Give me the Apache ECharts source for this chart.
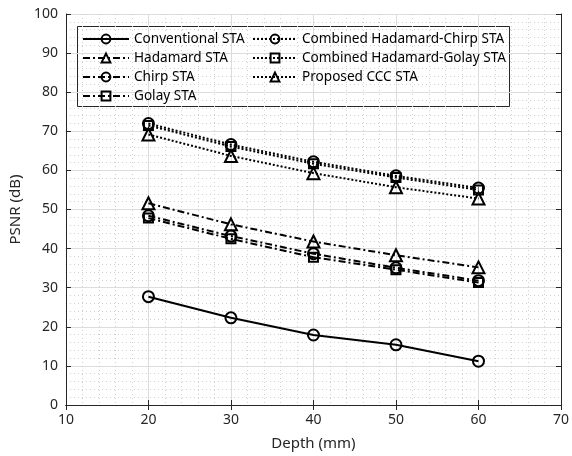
<!DOCTYPE html>
<html><head><meta charset="utf-8">
<script src="https://cdn.jsdelivr.net/npm/echarts@6/dist/echarts.min.js"></script>
<style>html,body{margin:0;padding:0;background:#fff}#c{width:572px;height:456px}</style>
</head><body><div id="c"></div>
<script>
const depth = [20, 30, 40, 50, 60];
const conventional = [27.7, 22.3, 17.9, 15.4, 11.2];
const hadamard = [51.6, 46.2, 41.8, 38.3, 35.2];
const chirp = [48.4, 43.2, 38.7, 35.1, 31.8];
const golay = [47.8, 42.5, 37.8, 34.6, 31.3];
const combHC = [72.0, 66.6, 62.2, 58.6, 55.5];
const combHG = [71.5, 66.1, 61.7, 58.2, 55.0];
const proposed = [69.2, 63.7, 59.3, 55.7, 52.8];
const names = ['Conventional STA','Hadamard STA','Chirp STA','Golay STA','Combined Hadamard-Chirp STA','Combined Hadamard-Golay STA','Proposed CCC STA'];

const FONT = 'Noto Sans';
const dashDot = [7, 3, 2, 3];
function mk(name, vals, symbol, type, width, size) {
  return {
    name, type: 'line', data: depth.map((d, i) => [d, vals[i]]),
    symbol, symbolSize: size, showSymbol: true,
    lineStyle: { color: '#000', width: width, type: type },
    itemStyle: { color: 'rgba(255,255,255,0)', borderColor: '#000', borderWidth: 2 },
    emphasis: { disabled: true }, z: 3
  };
}
const series = [
  mk(names[0], conventional, 'circle', 'solid', 2, 11),
  mk(names[1], hadamard, 'triangle', dashDot, 2, 12),
  mk(names[2], chirp, 'circle', dashDot, 2, 11),
  mk(names[3], golay, 'rect', dashDot, 2, 9),
  mk(names[4], combHC, 'circle', [2, 2], 2, 11),
  mk(names[5], combHG, 'rect', [2, 2], 2, 9),
  mk(names[6], proposed, 'triangle', [2, 2], 2, 12)
];
const axisCol = '#262626';
const chart = echarts.init(document.getElementById('c'));
const legendBase = {
  orient: 'vertical', itemWidth: 46, itemHeight: 11, itemGap: 5,
  textStyle: { fontFamily: FONT, fontSize: 13.6, color: '#000' },
  padding: 0, selectedMode: false
};
chart.setOption({
  animation: false,
  grid: { left: 65, right: 9, top: 14, bottom: 49 },
  xAxis: [{
    type: 'value', min: 10, max: 70, interval: 10,
    name: 'Depth (mm)', nameLocation: 'middle', nameGap: 31,
    nameTextStyle: { fontFamily: FONT, fontSize: 15, color: axisCol },
    axisLine: { lineStyle: { color: axisCol, width: 1 } },
    axisTick: { inside: true, length: 5, lineStyle: { color: axisCol } },
    axisLabel: { fontFamily: FONT, fontSize: 14, color: axisCol, margin: 8 },
    splitLine: { show: true, lineStyle: { color: '#dcdcdc', width: 1 } },
    minorTick: { show: false, splitNumber: 5 },
    minorSplitLine: { show: true, lineStyle: { color: '#cfcfcf', width: 1, type: [1, 3] } }
  }, {
    type: 'value', min: 10, max: 70, interval: 10, position: 'top',
    axisLine: { show: true, lineStyle: { color: axisCol } },
    axisTick: { inside: true, length: 5, lineStyle: { color: axisCol } },
    axisLabel: { show: false }, splitLine: { show: false }
  }],
  yAxis: [{
    type: 'value', min: 0, max: 100, interval: 10,
    name: 'PSNR (dB)', nameLocation: 'middle', nameGap: 39,
    nameTextStyle: { fontFamily: FONT, fontSize: 15, color: axisCol },
    axisLine: { show: true, lineStyle: { color: axisCol, width: 1 } },
    axisTick: { show: true, inside: true, length: 5, lineStyle: { color: axisCol } },
    axisLabel: { fontFamily: FONT, fontSize: 14, color: axisCol, margin: 8 },
    splitLine: { show: true, lineStyle: { color: '#dcdcdc', width: 1 } },
    minorTick: { show: false, splitNumber: 5 },
    minorSplitLine: { show: true, lineStyle: { color: '#cfcfcf', width: 1, type: [1, 3] } }
  }, {
    type: 'value', min: 0, max: 100, interval: 10, position: 'right',
    axisLine: { show: true, lineStyle: { color: axisCol } },
    axisTick: { show: true, inside: true, length: 5, lineStyle: { color: axisCol } },
    axisLabel: { show: false }, splitLine: { show: false }
  }],
  legend: [
    Object.assign({}, legendBase, { left: 82, top: 32, data: names.slice(0, 4) }),
    Object.assign({}, legendBase, { left: 252, top: 32, itemWidth: 44, data: names.slice(4) })
  ],
  graphic: [{
    type: 'rect', shape: { x: 77.5, y: 26.5, width: 432, height: 80 },
    style: { fill: '#fff', stroke: '#262626', lineWidth: 1 }, z: 0, zlevel: 0
  }],
  series
});
</script></body></html>
